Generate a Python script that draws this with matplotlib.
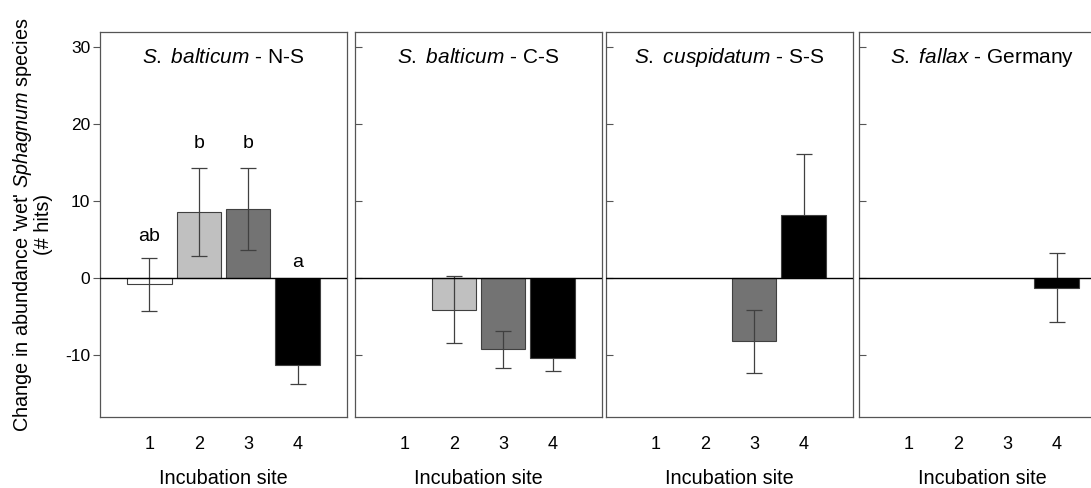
import matplotlib
matplotlib.use("Agg")
import matplotlib.pyplot as plt

plt.rcParams['font.family'] = ['Liberation Sans', 'DejaVu Sans']
plt.rcParams['mathtext.fontset'] = 'custom'
plt.rcParams['mathtext.rm'] = 'Liberation Sans'
plt.rcParams['mathtext.it'] = 'Liberation Sans:italic'
plt.rcParams['mathtext.bf'] = 'Liberation Sans:bold'

sites = [1, 2, 3, 4]
site_labels = ["1", "2", "3", "4"]
bar_colors = ["#ffffff", "#c0c0c0", "#737373", "#000000"]

panel_species = ["S. balticum", "S. balticum", "S. cuspidatum", "S. fallax"]
panel_regions = ["N-S", "C-S", "S-S", "Germany"]

# mean change per incubation site (None = not present)
means_ns = [-0.8, 8.6, 9.0, -11.25]
means_cs = [None, -4.05, -9.2, -10.3]
means_ss = [None, None, -8.2, 8.15]
means_de = [None, None, None, -1.2]

# standard errors
err_ns = [3.4, 5.7, 5.3, 2.5]
err_cs = [None, 4.3, 2.4, 1.7]
err_ss = [None, None, 4.1, 8.0]
err_de = [None, None, None, 4.5]

# significance letters for N-S panel
letters_ns = ["ab", "b", "b", "a"]
letter_y_ns = [5.4, 17.5, 17.5, 2.1]

all_means = [means_ns, means_cs, means_ss, means_de]
all_errs = [err_ns, err_cs, err_ss, err_de]

W, H = 1091, 488
fig = plt.figure(figsize=(W / 100, H / 100), dpi=100)

left_px = [100, 355, 606, 859]
width_px = 247
top_px, bottom_px = 31.7, 417
spine_col = "#555555"
err_col = "#404040"

for i, (mvals, evals) in enumerate(zip(all_means, all_errs)):
    ax = fig.add_axes([left_px[i] / W, 1 - bottom_px / H, width_px / W,
                       (bottom_px - top_px) / H])
    ax.set_xlim(0, 5)
    ax.set_ylim(-18, 32)
    for x, m, e, c in zip(sites, mvals, evals, bar_colors):
        if m is None:
            continue
        # black bars hide the inner half of their error bar
        bar_z = 3.5 if c == "#000000" else 2
        ax.bar(x, m, width=0.9, color=c, edgecolor=err_col, linewidth=0.8,
               zorder=bar_z)
        ax.errorbar(x, m, yerr=e, fmt="none", ecolor=err_col,
                    elinewidth=0.9, capsize=5.5, capthick=0.9, zorder=3)
    ax.axhline(0, color="black", linewidth=1.0, zorder=4)
    ax.set_xticks(sites)
    ax.set_xticklabels(site_labels, fontsize=13)
    ax.tick_params(axis="x", length=0, pad=13.5)
    ax.set_yticks([-10, 0, 10, 20, 30])
    if i == 0:
        ax.set_yticklabels(["-10", "0", "10", "20", "30"], fontsize=12.5)
        ax.tick_params(axis="y", direction="out", length=5, color=spine_col,
                       pad=2)
        ax.set_ylabel("Change in abundance 'wet' $\\it{Sphagnum}$ species\n(# hits)",
                      fontsize=14.3, labelpad=9, linespacing=1.0)
        for x, t, y in zip(sites, letters_ns, letter_y_ns):
            ax.text(x, y, t, ha="center", va="center", fontsize=14)
    else:
        ax.set_yticklabels([])
        ax.tick_params(axis="y", direction="in", length=5, color=spine_col)
    for s in ax.spines.values():
        s.set_color(spine_col)
        s.set_linewidth(0.9)
    ax.set_xlabel("Incubation site", fontsize=14.3, labelpad=11.5)
    sp = panel_species[i].replace(" ", "\\ ")
    ax.text(2.5, 28.6, "$\\it{" + sp + "}$ - " + panel_regions[i],
            ha="center", va="center", fontsize=15)

fig.savefig("out.png", dpi=100)
